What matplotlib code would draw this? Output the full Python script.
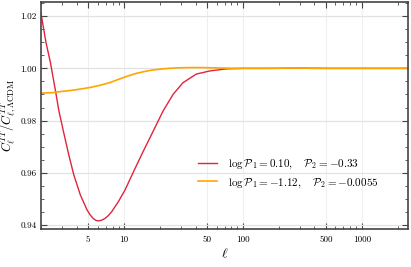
import matplotlib
matplotlib.use("Agg")
import matplotlib.pyplot as plt
import matplotlib.ticker as mticker

plt.rcParams["font.family"] = "serif"
plt.rcParams["font.serif"] = ["cmr10", "DejaVu Serif"]
plt.rcParams["mathtext.fontset"] = "cm"
plt.rcParams["axes.formatter.use_mathtext"] = True
plt.rcParams["axes.unicode_minus"] = False

# values
ell_red = [2.0, 2.2, 2.4, 2.65, 2.82, 3.1, 3.42, 3.77, 4.28, 4.88, 5.2, 5.54,
           5.8, 6.1, 6.5, 6.93, 7.4, 7.89, 8.96, 10.2, 11.97, 14.3, 17.6,
           21.3, 25.9, 31.3, 40.5, 52.5, 72.4, 100, 200, 300, 500, 1000, 2500]
val_red = [1.0210, 1.0100, 1.0022, 0.9913, 0.9840, 0.9755, 0.9670, 0.9593,
           0.9516, 0.9458, 0.9438, 0.9424, 0.9418, 0.9416, 0.9419, 0.9426,
           0.9437, 0.9452, 0.9490, 0.9535, 0.9603, 0.9677, 0.9760, 0.9837,
           0.9901, 0.9945, 0.9978, 0.9990, 0.9998, 1.0000, 1.0000, 1.0001,
           1.0000, 1.0000, 1.0000]

ell_orange = [2, 2.5, 2.91, 3.5, 4.2, 5.2, 6.1, 7.0, 7.64, 9, 10.5, 12.5, 14.5,
              17, 20, 24, 28, 35, 45, 55, 70, 90, 150, 250, 320, 400, 600,
              1000, 2500]
val_orange = [0.9905, 0.9907, 0.9911, 0.9915, 0.9920, 0.9927, 0.9934, 0.9941,
              0.9946, 0.9958, 0.9969, 0.9980, 0.9987, 0.9993, 0.9997, 1.0000,
              1.0002, 1.0003, 1.0003, 1.0002, 1.0001, 1.0000, 1.0000, 1.0001,
              1.0001, 1.0000, 1.0000, 1.0000, 1.0000]

labels = [r"$\log\mathcal{P}_1 = 0.10,\quad \mathcal{P}_2 = -0.33$",
          r"$\log\mathcal{P}_1 = -1.12,\quad \mathcal{P}_2 = -0.0055$"]
xticks = [5, 10, 50, 100, 500, 1000]
yticks = [0.94, 0.96, 0.98, 1.00, 1.02]

fig = plt.figure(figsize=(4.11, 2.67), dpi=100)
ax = fig.add_axes([0.0998, 0.1423, 0.8929, 0.8502])

ax.plot(ell_red, val_red, color="#e0243c", lw=1.0, label=labels[0])
ax.plot(ell_orange, val_orange, color="#ffa500", lw=1.2, label=labels[1])

ax.set_xscale("log")
ax.set_xlim(2, 2450)
ax.set_ylim(0.9385, 1.0254)
ax.set_xticks(xticks)
ax.xaxis.set_major_formatter(mticker.FixedFormatter([str(t) for t in xticks]))
ax.xaxis.set_minor_formatter(mticker.NullFormatter())
ax.set_yticks(yticks)
ax.yaxis.set_major_formatter(mticker.FormatStrFormatter("%.2f"))
ax.yaxis.set_minor_locator(mticker.MultipleLocator(0.005))

ax.xaxis.grid(True, which="major", color="#efefef", lw=0.8)
ax.yaxis.grid(True, which="major", color="#e2e2e2", lw=0.9)
ax.set_axisbelow(True)
ax.tick_params(which="both", direction="in", top=True, right=True,
               color="#444444")
ax.tick_params(which="major", length=4, width=0.8)
ax.tick_params(which="minor", length=2.2, width=0.6)
ax.tick_params(axis="x", labelsize=6.5, pad=5)
ax.tick_params(axis="y", labelsize=6.6, pad=3)
for s in ax.spines.values():
    s.set_color("#444444")
    s.set_linewidth(1.2)

ax.set_xlabel(r"$\ell$", fontsize=10, labelpad=2)
ax.set_ylabel(r"$C_\ell^{TT}/C_{\ell,\Lambda\mathrm{CDM}}^{TT}$", fontsize=9)
ax.yaxis.set_label_coords(-0.062, 0.5)

ax.legend(loc="center left", bbox_to_anchor=(0.40, 0.245), frameon=False,
          fontsize=8, handlelength=1.7, handletextpad=1.0, labelspacing=0.5)

fig.savefig("out.png", dpi=100)
